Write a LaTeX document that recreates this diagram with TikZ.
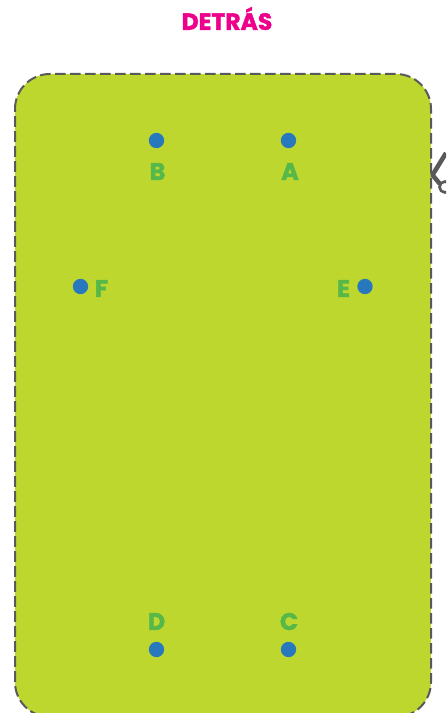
\documentclass[tikz,border=0pt]{standalone}
\usepackage{fontspec}
\setmainfont{Poppins}[BoldFont={Poppins Bold},BoldFeatures={FakeBold=1.6}]
\definecolor{lime}{HTML}{BDD72F}
\definecolor{dotblue}{HTML}{2878BE}
\definecolor{lettergreen}{HTML}{56B848}
\definecolor{titlepink}{HTML}{EC008C}
\definecolor{cutgrey}{HTML}{58595B}
\tikzset{
  dotmark/.style={circle,fill=dotblue,inner sep=0pt,minimum size=11.5pt},
  letter/.style={text=lettergreen,font=\bfseries\fontsize{18}{18}\selectfont,inner sep=0pt,anchor=center},
  titletext/.style={text=titlepink,font=\bfseries\fontsize{17.6}{18}\selectfont,inner sep=0pt},
  cutline/.style={draw=cutgrey,line width=1.5pt,dash pattern=on 8pt off 3.25pt}
}
\begin{document}
\begin{tikzpicture}[x=0.75pt,y=-0.75pt]
\useasboundingbox (0,0) rectangle (446,713);
\begin{scope}
\clip (0,0) rectangle (446,713);
\path[fill=lime,cutline] (15,109) arc[start angle=180,end angle=90,radius=35*0.75pt] -- (396,74) arc[start angle=90,end angle=0,radius=35*0.75pt] -- (431,682) arc[start angle=0,end angle=-90,radius=35*0.75pt] -- (50,717) arc[start angle=-90,end angle=-180,radius=35*0.75pt] -- cycle;
\draw[cutgrey,line width=3.4pt,line join=round] (446,153) -- (432.5,175) -- (440,184);
\draw[cutgrey,line width=2pt] (445,187) circle[radius=5.5*0.75pt];
\end{scope}
\node[titletext] (title) at (227,18.5) {DETRÁS};
\node[dotmark] (dB) at (156.5,140.5) {};
\node[dotmark] (dA) at (288.5,140.5) {};
\node[dotmark] (dF) at (80.5,286.5) {};
\node[dotmark] (dE) at (365,286.5) {};
\node[dotmark] (dD) at (156.5,649.5) {};
\node[dotmark] (dC) at (288.5,649.5) {};
\node[letter] (lB) at (157.5,171.5) {B};
\node[letter] (lA) at (290,171.5) {A};
\node[letter] (lF) at (101.5,288.5) {F};
\node[letter] (lE) at (343.5,288.5) {E};
\node[letter] (lD) at (156.5,621.5) {D};
\node[letter] (lC) at (289,621.5) {C};
\end{tikzpicture}
\end{document}
